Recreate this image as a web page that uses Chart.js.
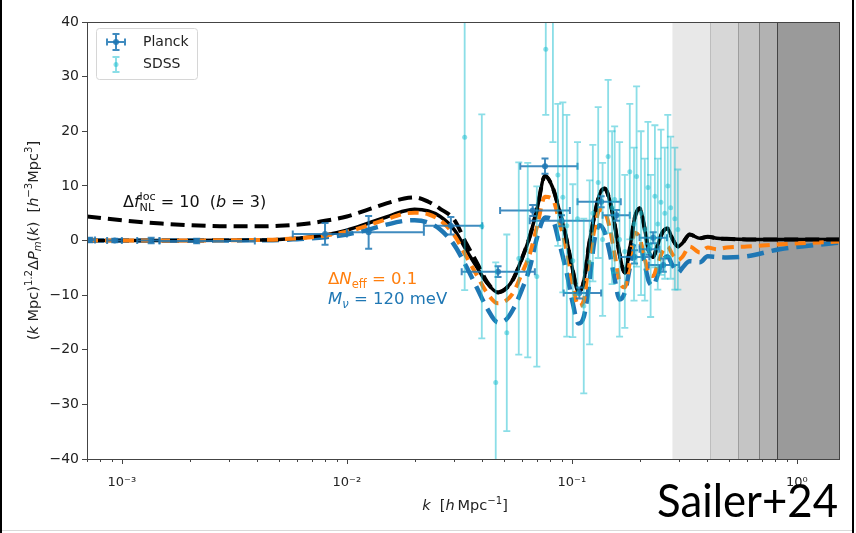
<!DOCTYPE html>
<html>
<head>
<meta charset="utf-8">
<script src="https://cdn.jsdelivr.net/npm/chart.js@4.4.1/dist/chart.umd.min.js"></script>
<style>
  html, body { margin: 0; padding: 0; background: #fff; }
  canvas { display: block; }
</style>
</head>
<body>
<canvas id="c" width="856" height="533"></canvas>
<script>
// theory curves, all on one k grid [h/Mpc]
var curveK = [7.0e-4, 1.0e-3, 1.5e-3, 2.0e-3, 3.0e-3, 4.0e-3, 5.0e-3, 6.0e-3, 7.0e-3, 8.0e-3,
  1.0e-2, 1.25e-2, 1.5e-2, 1.8e-2, 2.0e-2, 2.3e-2, 2.6e-2, 3.0e-2, 3.4e-2, 3.8e-2,
  4.2e-2, 4.7e-2, 5.1e-2, 5.5e-2, 6.0e-2, 6.5e-2, 7.0e-2, 7.6e-2, 8.2e-2, 8.8e-2,
  9.5e-2, 0.101, 0.107, 0.113, 0.119, 0.126, 0.133, 0.140, 0.147, 0.155,
  0.163, 0.172, 0.181, 0.190, 0.200, 0.210, 0.220, 0.230, 0.240, 0.253,
  0.266, 0.280, 0.296, 0.310, 0.334, 0.371, 0.402, 0.441, 0.488, 0.600,
  0.840, 1.54];
var fiducial = [0, 0, 0, 0, 0.05, 0.1, 0.2, 0.4, 0.7, 1.0,
  1.9, 3.2, 4.3, 5.4, 5.7, 5.4, 4.4, 2.0, -1.8, -5.0,
  -7.8, -9.5, -8.8, -7.0, -3.3, 0.7, 5.7, 11.8, 9.8, 5.5,
  0.0, -5.5, -9.4, -7.5, -1.0, 4.5, 8.5, 9.5, 7.5, 3.0,
  -2.5, -5.9, -1.5, 4.0, 5.9, 2.5, -2.0, -3.0, -1.0, 1.5,
  2.2, 0.3, -1.1, -0.5, 1.1, 0.4, 0.7, 0.4, 0.3, 0.2,
  0.2, 0.2];
var fnlCurve = [4.4, 3.7, 3.1, 2.8, 2.6, 2.6, 2.7, 2.9, 3.2, 3.6,
  4.4, 5.7, 6.8, 7.7, 7.9, 7.1, 5.8, 3.8, -0.6, -4.2,
  -7.6, -9.5, -8.8, -7.0, -3.3, 0.7, 5.7, 11.8, 9.8, 5.5,
  0.0, -5.5, -9.4, -7.5, -1.0, 4.5, 8.5, 9.5, 7.5, 3.0,
  -2.5, -5.9, -1.5, 4.0, 5.9, 2.5, -2.0, -3.0, -1.0, 1.5,
  2.2, 0.3, -1.1, -0.5, 1.1, 0.4, 0.7, 0.4, 0.3, 0.2,
  0.2, 0.2];
var neffCurve = [0, 0, 0, 0, 0.05, 0.1, 0.2, 0.4, 0.6, 0.9,
  1.6, 2.8, 3.9, 4.9, 5.1, 4.8, 3.7, 1.0, -3.0, -6.5,
  -9.6, -11.5, -11.0, -9.5, -6.0, -2.5, 2.5, 8.0, 7.6, 3.5,
  -2.0, -8.0, -12.0, -11.0, -4.0, 2.0, 5.6, 5.2, 2.5, -2.5,
  -7.5, -8.6, -4.0, 1.4, 0.5, -3.0, -6.0, -6.5, -4.5, -2.0,
  -1.1, -2.5, -3.6, -3.0, -1.1, -2.2, -1.3, -1.6, -1.3, -1.1,
  -0.7, -0.2];
var mnuCurve = [0, 0, 0, 0, 0, 0.05, 0.1, 0.25, 0.4, 0.6,
  1.1, 2.0, 2.9, 3.6, 3.7, 3.3, 2.0, -0.8, -4.8, -8.8,
  -12.4, -15.0, -14.5, -12.5, -9.0, -5.0, 0.5, 4.2, 3.8, -0.5,
  -6.0, -11.5, -15.2, -14.0, -8.5, 0.0, 2.8, 1.5, -2.0, -7.0,
  -10.8, -9.5, -5.0, -0.5, -0.3, -4.0, -7.5, -8.3, -6.5, -3.8,
  -2.9, -4.5, -5.9, -5.0, -3.8, -4.0, -2.9, -3.0, -3.1, -2.9,
  -1.6, -0.4];

// Planck points with k-bin edges
var planckK   = [7.2e-4, 9.3e-4, 1.35e-3, 2.15e-3, 8.0e-3, 1.25e-2, 2.9e-2, 4.7e-2, 6.7e-2, 7.6e-2, 0.09, 0.108, 0.135, 0.158, 0.19, 0.22, 0.23, 0.255];
var planckVal = [0.1, 0.0, 0.0, -0.1, 1.2, 1.5, 2.7, -5.7, 5.5, 13.6, 3.6, -9.6, 7.1, 4.6, -3.0, -1.6, 0.5, -4.5];
var planckErr = [0.4, 0.3, 0.5, 0.4, 2.0, 3.0, 1.6, 1.0, 1.0, 1.4, 1.0, 1.0, 1.0, 1.0, 1.2, 1.0, 1.0, 1.2];
var planckKlo = [7.0e-4, 8.6e-4, 1.17e-3, 1.47e-3, 5.75e-3, 1.0e-2, 2.2e-2, 3.24e-2, 4.8e-2, 5.9e-2, 0.065, 0.092, 0.106, 0.137, 0.163, 0.2, 0.2, 0.22];
var planckKhi = [7.6e-4, 1.0e-3, 1.47e-3, 3.9e-3, 1.0e-2, 2.2e-2, 4.0e-2, 6.85e-2, 9.8e-2, 0.106, 0.124, 0.135, 0.165, 0.181, 0.221, 0.245, 0.265, 0.3];

// SDSS points
var sdssK   = [0.0334, 0.0398, 0.0459, 0.0514, 0.0581, 0.0637, 0.0699, 0.0766, 0.0824, 0.0867,
  0.0912, 0.0950, 0.101, 0.106, 0.113, 0.120, 0.124, 0.131, 0.137, 0.145,
  0.151, 0.155, 0.163, 0.172, 0.181, 0.189, 0.194, 0.203, 0.211, 0.218,
  0.224, 0.234, 0.241, 0.249, 0.259, 0.267, 0.275, 0.287, 0.296];
var sdssVal = [18.9, 2.6, -26, -16.9, -3.3, -3.6, -6.6, 35, 45, 12,
  7.9, 2.7, -3.7, 4, -12, -4, 5, 10.6, 0.2, 15.4,
  6, 7.5, 0.2, -2, 12.6, 3, 11.7, 5, 2, 9.7,
  -1, 8.1, 3, 7, 5, 10, 6, 4, 2];
var sdssErr = [28, 20.5, 22, 18, 17.6, 17.8, 16.5, 12, 27, 13,
  17.4, 20.3, 14, 14, 16, 15, 12.5, 13.8, 14, 14,
  14, 13.4, 17.8, 14, 12.4, 14, 16.5, 15, 13, 12,
  13, 13, 12, 13.3, 12, 13, 13, 13, 11];

// grey scale-cut bands
var bandEdges = [0.28, 0.41, 0.55, 0.68, 0.82];
var bandShades = ['#e8e8e8', '#d7d7d7', '#c5c5c5', '#b2b2b2', '#9a9a9a'];
var bandLines = ['#e8e8e8', '#bdbdbd', '#9e9e9e', '#7d7d7d', '#444444'];

var yTicks = [-40, -30, -20, -10, 0, 10, 20, 30, 40];

var planckColor = 'rgba(31,119,180,0.85)';
var sdssColor = 'rgba(23,190,207,0.5)';

function pts(ks, vs) {
  return ks.map(function (k, i) { return {x: k, y: vs[i]}; });
}

// text with italic / sub / superscript parts
function richText(ctx, x, y, parts, size, color, align) {
  function fontFor(p) {
    var s = p.s ? size * 0.7 : size;
    return (p.i ? 'italic ' : '') + s + 'px "DejaVu Sans"';
  }
  var w = 0, pend = 0;
  parts.forEach(function (p) {
    ctx.font = fontFor(p);
    var pw = ctx.measureText(p.t).width;
    if (p.keep) { pend = pw; } else { w += Math.max(pw, pend); pend = 0; }
  });
  var cx = align === 'center' ? x - w / 2 : (align === 'right' ? x - w : x);
  ctx.fillStyle = color;
  ctx.textAlign = 'left';
  ctx.textBaseline = 'alphabetic';
  pend = 0;
  parts.forEach(function (p) {
    ctx.font = fontFor(p);
    var pw = ctx.measureText(p.t).width;
    var dy = p.s === 1 ? -size * 0.42 : (p.s === -1 ? size * 0.22 : 0);
    ctx.fillText(p.t, cx, y + dy);
    if (p.keep) { pend = pw; } else { cx += Math.max(pw, pend); pend = 0; }
  });
}

var deco = {
  id: 'deco',
  beforeDatasetsDraw: function (chart) {
    var ctx = chart.ctx, a = chart.chartArea, xs = chart.scales.x;
    ctx.save();
    for (var i = 0; i < bandEdges.length; i++) {
      var x0 = xs.getPixelForValue(bandEdges[i]);
      var x1 = i + 1 < bandEdges.length ? xs.getPixelForValue(bandEdges[i + 1]) : a.right;
      ctx.fillStyle = bandShades[i];
      ctx.fillRect(x0, a.top, x1 - x0, a.bottom - a.top);
    }
    for (var j = 1; j < bandEdges.length; j++) {
      var xl = Math.round(xs.getPixelForValue(bandEdges[j])) + 0.5;
      ctx.strokeStyle = bandLines[j];
      ctx.lineWidth = 1;
      ctx.beginPath(); ctx.moveTo(xl, a.top); ctx.lineTo(xl, a.bottom); ctx.stroke();
    }
    ctx.restore();
  },
  beforeDatasetDraw: function (chart, args) {
    var ds = chart.data.datasets[args.index];
    if (!ds.errY) return;
    var ctx = chart.ctx, a = chart.chartArea, xs = chart.scales.x, ys = chart.scales.y;
    var cap = ds.cap;
    ctx.save();
    ctx.beginPath(); ctx.rect(a.left, a.top, a.right - a.left, a.bottom - a.top); ctx.clip();
    ctx.strokeStyle = ds.barColor;
    ctx.lineWidth = ds.barWidth;
    ds.data.forEach(function (p, i) {
      var px = xs.getPixelForValue(p.x), py = ys.getPixelForValue(p.y);
      var y1 = ys.getPixelForValue(p.y + ds.errY[i]), y2 = ys.getPixelForValue(p.y - ds.errY[i]);
      ctx.beginPath();
      ctx.moveTo(px, y1); ctx.lineTo(px, y2);
      ctx.moveTo(px - cap, y1); ctx.lineTo(px + cap, y1);
      ctx.moveTo(px - cap, y2); ctx.lineTo(px + cap, y2);
      if (ds.errXlo) {
        var x1 = xs.getPixelForValue(ds.errXlo[i]), x2 = xs.getPixelForValue(ds.errXhi[i]);
        ctx.moveTo(x1, py); ctx.lineTo(x2, py);
        ctx.moveTo(x1, py - cap); ctx.lineTo(x1, py + cap);
        ctx.moveTo(x2, py - cap); ctx.lineTo(x2, py + cap);
      }
      ctx.stroke();
    });
    ctx.restore();
  },
  afterDraw: function (chart) {
    var ctx = chart.ctx, a = chart.chartArea, xs = chart.scales.x;
    ctx.save();

    // axes frame
    ctx.strokeStyle = '#444';
    ctx.lineWidth = 1;
    ctx.strokeRect(Math.round(a.left) + 0.5, Math.round(a.top) + 0.5, Math.round(a.right - a.left), Math.round(a.bottom - a.top));

    // log ticks on x
    ctx.beginPath();
    for (var e = -4; e <= 0; e++) {
      for (var m = 1; m <= 9; m++) {
        var k = m * Math.pow(10, e);
        if (k < xs.min || k > xs.max) continue;
        var px = Math.round(xs.getPixelForValue(k)) + 0.5;
        ctx.moveTo(px, a.bottom);
        ctx.lineTo(px, a.bottom + (m === 1 ? 5 : 3));
      }
    }
    ctx.stroke();

    // annotations
    richText(ctx, 123, 207, [
      {t: '\u0394'}, {t: 'f', i: true}, {t: 'loc', s: 1, keep: true}, {t: 'NL', s: -1},
      {t: ' = 10  ('}, {t: 'b', i: true}, {t: ' = 3)'}
    ], 16, '#111', 'left');
    richText(ctx, 328, 284, [
      {t: '\u0394'}, {t: 'N', i: true}, {t: 'eff', s: -1}, {t: ' = 0.1'}
    ], 16.5, '#ff7f0e', 'left');
    richText(ctx, 328, 304, [
      {t: 'M', i: true}, {t: '\u03bd', i: true, s: -1}, {t: ' = 120 meV'}
    ], 16.5, '#1f77b4', 'left');

    // legend
    ctx.fillStyle = 'rgba(255,255,255,0.85)';
    ctx.strokeStyle = '#d6d6d6';
    ctx.beginPath();
    ctx.roundRect(96.5, 28.5, 101, 51, 3);
    ctx.fill(); ctx.stroke();
    ctx.strokeStyle = planckColor; ctx.lineWidth = 2;
    ctx.beginPath();
    ctx.moveTo(107, 42); ctx.lineTo(125, 42);
    ctx.moveTo(107, 38.5); ctx.lineTo(107, 45.5);
    ctx.moveTo(125, 38.5); ctx.lineTo(125, 45.5);
    ctx.moveTo(116, 34); ctx.lineTo(116, 50);
    ctx.moveTo(112.5, 34); ctx.lineTo(119.5, 34);
    ctx.moveTo(112.5, 50); ctx.lineTo(119.5, 50);
    ctx.stroke();
    ctx.fillStyle = planckColor;
    ctx.beginPath(); ctx.arc(116, 42, 3, 0, Math.PI * 2); ctx.fill();
    ctx.strokeStyle = sdssColor;
    ctx.beginPath();
    ctx.moveTo(116, 57); ctx.lineTo(116, 72);
    ctx.moveTo(112.5, 57); ctx.lineTo(119.5, 57);
    ctx.moveTo(112.5, 72); ctx.lineTo(119.5, 72);
    ctx.stroke();
    ctx.fillStyle = sdssColor;
    ctx.beginPath(); ctx.arc(116, 64.5, 2.5, 0, Math.PI * 2); ctx.fill();
    ctx.fillStyle = '#222';
    ctx.font = '14px "DejaVu Sans"';
    ctx.textBaseline = 'middle';
    ctx.fillText('Planck', 143, 42);
    ctx.fillText('SDSS', 143, 64.5);

    // axis titles
    richText(ctx, (a.left + a.right) / 2 + 2, 510, [
      {t: 'k', i: true}, {t: '  ['}, {t: 'h', i: true}, {t: '\u2009Mpc'}, {t: '\u22121', s: 1}, {t: ']'}
    ], 14.5, '#222', 'center');
    ctx.save();
    ctx.translate(38, (a.top + a.bottom) / 2);
    ctx.rotate(-Math.PI / 2);
    richText(ctx, 0, 0, [
      {t: '('}, {t: 'k', i: true}, {t: ' Mpc)'}, {t: '1.2', s: 1}, {t: '\u0394'}, {t: 'P', i: true},
      {t: 'm', i: true, s: -1}, {t: '('}, {t: 'k', i: true}, {t: ')  ['}, {t: 'h', i: true},
      {t: '\u22123', s: 1}, {t: 'Mpc'}, {t: '3', s: 1}, {t: ']'}
    ], 14.5, '#222', 'center');
    ctx.restore();

    // citation tag
    ctx.font = '46px Lato';
    ctx.textBaseline = 'alphabetic';
    var tw = ctx.measureText('Sailer+24').width;
    ctx.save();
    ctx.translate(657, 517);
    ctx.scale(181 / tw, 1);
    ctx.fillStyle = '#000';
    ctx.fillText('Sailer+24', 0, 0);
    ctx.restore();

    // slide borders
    ctx.fillStyle = '#000';
    ctx.fillRect(0, 0, 2, 533);
    ctx.fillRect(852, 0, 2, 533);
    ctx.fillStyle = '#d9d9d9';
    ctx.fillRect(2, 530, 850, 1);

    ctx.restore();
  }
};

Chart.defaults.font.family = '"DejaVu Sans", sans-serif';

new Chart(document.getElementById('c'), {
  type: 'scatter',
  data: {
    datasets: [
      {
        label: 'SDSS', data: pts(sdssK, sdssVal), errY: sdssErr,
        barColor: sdssColor, barWidth: 1.8, cap: 3.5,
        pointRadius: 2.5, pointBackgroundColor: sdssColor, pointBorderWidth: 0
      },
      {
        label: 'Planck', data: pts(planckK, planckVal), errY: planckErr,
        errXlo: planckKlo, errXhi: planckKhi,
        barColor: planckColor, barWidth: 2, cap: 3.5,
        pointRadius: 3, pointBackgroundColor: planckColor, pointBorderWidth: 0
      },
      {
        label: 'fNL', data: pts(curveK, fnlCurve), showLine: true, cubicInterpolationMode: 'monotone',
        borderColor: '#000', borderWidth: 4, borderDash: [14, 7], pointRadius: 0
      },
      {
        label: 'Neff', data: pts(curveK, neffCurve), showLine: true, cubicInterpolationMode: 'monotone',
        borderColor: '#ff7f0e', borderWidth: 4, borderDash: [11, 7], pointRadius: 0
      },
      {
        label: 'fiducial', data: pts(curveK, fiducial), showLine: true, cubicInterpolationMode: 'monotone',
        borderColor: '#000', borderWidth: 3.5, pointRadius: 0
      },
      {
        label: 'Mnu', data: pts(curveK, mnuCurve), showLine: true, cubicInterpolationMode: 'monotone',
        borderColor: '#1f77b4', borderWidth: 4.5, borderDash: [17, 8], pointRadius: 0
      }
    ]
  },
  options: {
    responsive: false,
    animation: false,
    devicePixelRatio: 1,
    layout: { padding: { left: 0, right: 17, top: 22, bottom: 0 } },
    plugins: { legend: { display: false }, tooltip: { enabled: false } },
    scales: {
      x: {
        type: 'logarithmic', min: 7.0e-4, max: 1.54,
        grid: { display: false },
        border: { display: false },
        afterFit: function (s) { s.height = 74; },
        ticks: {
          autoSkip: false, maxRotation: 0, padding: 8,
          color: '#222', font: { size: 13 },
          callback: function (v) {
            var l = Math.log10(v);
            if (Math.abs(l - Math.round(l)) > 1e-6) return '';
            var sup = { '-3': '\u207b\u00b3', '-2': '\u207b\u00b2', '-1': '\u207b\u00b9', '0': '\u2070' };
            return '10' + sup[String(Math.round(l))];
          }
        }
      },
      y: {
        min: -40, max: 40,
        afterFit: function (s) { s.width = 87; },
        afterBuildTicks: function (s) { s.ticks = yTicks.map(function (v) { return {value: v}; }); },
        grid: { drawOnChartArea: false, drawTicks: true, tickLength: 5, color: '#444' },
        border: { display: false },
        ticks: {
          padding: 3, color: '#222', font: { size: 14 },
          callback: function (v) { return v < 0 ? '\u2212' + Math.abs(v) : String(v); }
        }
      }
    }
  },
  plugins: [deco]
});
</script>
</body>
</html>
